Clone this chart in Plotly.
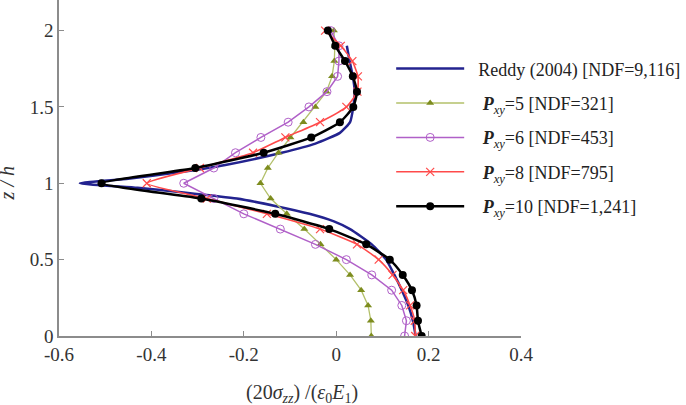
import plotly.graph_objects as go

# z/h positions of the finite-element sample points
z_fe = [0.0, 0.1, 0.2, 0.3, 0.4, 0.5, 0.6, 0.7, 0.8, 0.9, 1.0,
        1.1, 1.2, 1.3, 1.4, 1.5, 1.6, 1.7, 1.8, 1.9, 2.0]

# Reddy (2004) reference solution
z_reddy = [0.0, 0.1, 0.2, 0.3, 0.4, 0.5, 0.6, 0.7, 0.75, 0.8, 0.85, 0.9, 0.94, 0.97, 1.0,
           1.03, 1.07, 1.12, 1.2, 1.26, 1.33, 1.4, 1.5, 1.6, 1.7, 1.8, 1.9]
x_reddy = [0.172, 0.166, 0.156, 0.142, 0.126, 0.108, 0.077, 0.030, -0.005, -0.058, -0.130,
           -0.215, -0.330, -0.430, -0.555, -0.450, -0.345, -0.240, -0.118, -0.045, 0.008,
           0.030, 0.037, 0.040, 0.036, 0.029, 0.023]

x_p5 = [0.076, 0.075, 0.069, 0.054, 0.030, 0.000, -0.034, -0.069, -0.107, -0.142, -0.164,
        -0.148, -0.125, -0.099, -0.071, -0.045, -0.021, -0.009, -0.004, -0.003, -0.005]
x_p6 = [0.148, 0.152, 0.142, 0.120, 0.077, 0.022, -0.045, -0.121, -0.200, -0.265, -0.330,
        -0.265, -0.218, -0.163, -0.104, -0.059, -0.020, 0.003, 0.006, 0.006, -0.012]
x_p8 = [0.171, 0.170, 0.160, 0.145, 0.122, 0.092, 0.045, -0.035, -0.150, -0.280, -0.410,
        -0.295, -0.180, -0.110, -0.035, 0.022, 0.046, 0.047, 0.035, 0.010, -0.024]
x_p10 = [0.185, 0.177, 0.174, 0.164, 0.144, 0.116, 0.065, -0.015, -0.132, -0.292, -0.508,
         -0.305, -0.157, -0.054, 0.008, 0.037, 0.045, 0.036, 0.019, -0.002, -0.018]

names = ["&nbsp;&nbsp;Reddy (2004) [NDF=9,116]",
         "&nbsp;&nbsp;&nbsp;<b><i>P</i></b><sub><i>xy</i></sub>=5 [NDF=321]",
         "&nbsp;&nbsp;&nbsp;<b><i>P</i></b><sub><i>xy</i></sub>=6 [NDF=453]",
         "&nbsp;&nbsp;&nbsp;<b><i>P</i></b><sub><i>xy</i></sub>=8 [NDF=795]",
         "&nbsp;&nbsp;&nbsp;<b><i>P</i></b><sub><i>xy</i></sub>=10 [NDF=1,241]"]

x_ticks = [-0.6, -0.4, -0.2, 0, 0.2, 0.4]
y_ticks = [0, 0.5, 1, 1.5, 2]

SERIF = "Liberation Serif, Times New Roman, serif"

fig = go.Figure()
fig.add_trace(go.Scatter(x=x_reddy, y=z_reddy, mode="lines", name=names[0],
                         line=dict(color="#23238f", width=2.5, shape="spline", smoothing=0.5),
                         legendgroup="a"))
fig.add_trace(go.Scatter(x=x_p5, y=z_fe, mode="lines+markers", name=names[1],
                         line=dict(color="#b3c06a", width=1.3),
                         marker=dict(symbol="triangle-up", size=7, color="#7d8c1e"),
                         legendgroup="b"))
fig.add_trace(go.Scatter(x=x_p6, y=z_fe, mode="lines+markers", name=names[2],
                         line=dict(color="#b060c8", width=1.5),
                         marker=dict(symbol="circle-open", size=8, color="#b060c8", line=dict(width=1)),
                         legendgroup="c"))
fig.add_trace(go.Scatter(x=x_p8, y=z_fe, mode="lines+markers", name=names[3],
                         line=dict(color="#ff4a4a", width=1.6, shape="spline", smoothing=0.5),
                         marker=dict(symbol="x-thin-open", size=8, color="#ff4a4a", line=dict(width=1.2)),
                         legendgroup="d"))
fig.add_trace(go.Scatter(x=x_p10, y=z_fe, mode="lines+markers", name=names[4],
                         line=dict(color="#000000", width=2.5, shape="spline", smoothing=0.5),
                         marker=dict(symbol="circle", size=8, color="#000000"),
                         legendgroup="e"))

fig.update_layout(
    width=686, height=405,
    margin=dict(l=59, r=165, t=0, b=69, autoexpand=False),
    plot_bgcolor="white", paper_bgcolor="white",
    font=dict(family=SERIF, size=19, color="#333333"),
    showlegend=True,
    legend=dict(x=0.719, xanchor="left", y=0.85, yanchor="top",
                bgcolor="rgba(0,0,0,0)", font=dict(family=SERIF, size=18, color="#222222"),
                tracegroupgap=8, itemwidth=68),
    xaxis=dict(range=[-0.6, 0.4], tickvals=x_ticks, ticktext=[str(v) for v in x_ticks],
               showgrid=False, zeroline=False, showline=True, linecolor="#8c8c8c", linewidth=1.5,
               ticks="inside", ticklen=5, tickcolor="#8c8c8c", tickfont=dict(size=19)),
    yaxis=dict(range=[0, 2.2], tickvals=y_ticks, ticktext=[str(v) for v in y_ticks],
               showgrid=False, zeroline=False, showline=True, linecolor="#8c8c8c", linewidth=1.5,
               ticks="inside", ticklen=5, tickcolor="#8c8c8c", tickfont=dict(size=19)),
    annotations=[
        dict(text="(20<i>σ</i><sub><i>zz</i></sub>) /(<i>ε</i><sub>0</sub><i>E</i><sub>1</sub>)",
             xref="paper", yref="paper", x=0.526, y=-0.172, xanchor="center", yanchor="middle",
             showarrow=False, font=dict(family=SERIF, size=20, color="#333333")),
        dict(text="<i>z / h</i>", xref="paper", yref="paper", x=-0.112, y=0.455,
             xanchor="center", yanchor="middle", textangle=-90, showarrow=False,
             font=dict(family=SERIF, size=20, color="#333333")),
    ],
)

fig.write_html("out.html")
